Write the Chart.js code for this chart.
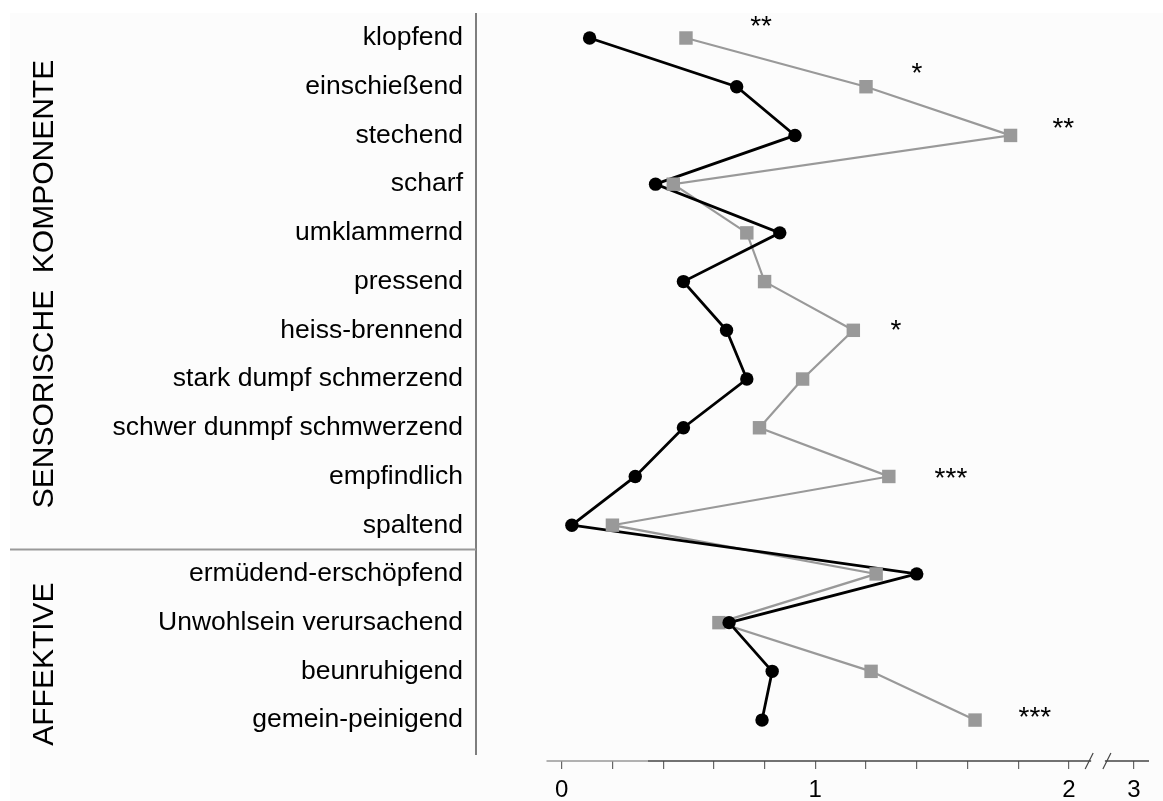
<!DOCTYPE html>
<html><head><meta charset="utf-8">
<script src="https://cdn.jsdelivr.net/npm/chart.js@4.4.1/dist/chart.umd.min.js"></script>
<style>html,body{margin:0;padding:0;background:#fff;}canvas{display:block;}</style>
</head><body>
<canvas id="c" width="1163" height="801"></canvas>
<script>
const categories = ["klopfend","einschießend","stechend","scharf","umklammernd","pressend","heiss-brennend","stark dumpf schmerzend","schwer dunmpf schmwerzend","empfindlich","spaltend","ermüdend-erschöpfend","Unwohlsein verursachend","beunruhigend","gemein-peinigend"];
const seriesBlack = [0.11,0.69,0.92,0.37,0.86,0.48,0.65,0.73,0.48,0.29,0.04,1.40,0.66,0.83,0.79];
const seriesGray  = [0.49,1.20,1.77,0.44,0.73,0.80,1.15,0.95,0.78,1.29,0.20,1.24,0.62,1.22,1.63];
const groupNames = ["SENSORISCHE  KOMPONENTE","AFFEKTIVE"];
const groupCenters = [5.05, 12.85];
const groupSplit = 10.5;
const starLabels = ["**","*","**","*","***","***"];
const starX = [0.786,1.401,1.978,1.318,1.535,1.866];
const starY = [-0.40,0.585,1.71,5.84,8.88,13.80];
const xTickValues = [0,0.2,0.4,0.6,0.8,1,1.2,1.4,1.6,1.8,2,2.257];
const xTickLabels = ["0","","","","","1","","","","","2","3"];
const axisStart = -0.06;
const axisLightEnd = 0.34;
const axisBreak = [2.08, 2.15];

const FONT = "'Liberation Sans', Arial, sans-serif";
const toPts = arr => arr.map((v,i)=>({x:v,y:i}));

const decor = {
  id:'decor',
  beforeDraw(chart){
    const c = chart.ctx;
    c.save();
    c.fillStyle='#ffffff'; c.fillRect(0,0,chart.width,chart.height);
    c.fillStyle='#fcfcfc'; c.fillRect(10,13,chart.width-10,chart.height-13);
    c.restore();
  },
  afterDraw(chart){
    const c = chart.ctx, xs = chart.scales.x, ys = chart.scales.y, ca = chart.chartArea;
    c.save();
    const y0 = xs.top;
    // x axis line (light start segment, then dark, with break)
    c.lineWidth=1.5;
    c.strokeStyle='#999';
    c.beginPath();
    c.moveTo(xs.getPixelForValue(axisStart), y0);
    c.lineTo(xs.getPixelForValue(axisLightEnd), y0);
    c.stroke();
    c.strokeStyle='#444';
    c.beginPath();
    c.moveTo(xs.getPixelForValue(axisLightEnd), y0);
    c.lineTo(xs.getPixelForValue(axisBreak[0])+2, y0);
    c.moveTo(xs.getPixelForValue(axisBreak[1])-2, y0);
    c.lineTo(xs.right, y0);
    c.stroke();
    c.lineWidth=1.2;
    axisBreak.forEach(b=>{
      const px = xs.getPixelForValue(b);
      c.beginPath(); c.moveTo(px-4, y0+8); c.lineTo(px+4, y0-8); c.stroke();
    });
    // vertical category axis line
    c.strokeStyle='#555'; c.lineWidth=1.5;
    c.beginPath(); c.moveTo(ca.left, ca.top); c.lineTo(ca.left, ca.bottom-6); c.stroke();
    // group separator
    const sy = ys.getPixelForValue(groupSplit);
    c.strokeStyle='#999'; c.lineWidth=2;
    c.beginPath(); c.moveTo(10, sy); c.lineTo(ca.left, sy); c.stroke();
    // group labels
    c.fillStyle='#000'; c.font = "30px "+FONT; c.textAlign='center'; c.textBaseline='middle';
    groupNames.forEach((g,i)=>{
      const py = ys.getPixelForValue(groupCenters[i]);
      c.save(); c.translate(45, py); c.rotate(-Math.PI/2); c.fillText(g,0,0); c.restore();
    });
    // significance stars
    c.font = "28px "+FONT; c.textAlign='center'; c.textBaseline='alphabetic';
    starLabels.forEach((s,i)=>{
      c.fillText(s, xs.getPixelForValue(starX[i]), ys.getPixelForValue(starY[i]) + 16);
    });
    c.restore();
  }
};

new Chart(document.getElementById('c'), {
  type:'scatter',
  data:{ datasets:[
    {data:toPts(seriesGray), showLine:true, borderColor:'#999999', borderWidth:2.2, pointRadius:0, order:4},
    {data:toPts(seriesBlack), showLine:true, borderColor:'#000000', borderWidth:2.8, pointRadius:0, order:3},
    {data:toPts(seriesGray), showLine:false, pointStyle:'rect', pointRadius:9.5, backgroundColor:'#999999', borderWidth:0, order:2},
    {data:toPts(seriesBlack), showLine:false, pointStyle:'circle', pointRadius:6.7, backgroundColor:'#000000', borderWidth:0, order:1}
  ]},
  options:{
    responsive:false, animation:false,
    layout:{padding:{top:13,right:14,bottom:0,left:0}},
    plugins:{legend:{display:false}, tooltip:{enabled:false}},
    scales:{
      x:{ type:'linear', min:-0.338, max:2.316,
        border:{display:false},
        grid:{display:true, drawOnChartArea:false, drawTicks:true, tickLength:8, color:'#666', lineWidth:1.2},
        afterBuildTicks:(s)=>{ s.ticks = xTickValues.map(v=>({value:v})); },
        afterFit:(s)=>{ s.height = 40; },
        ticks:{ autoSkip:false, maxRotation:0, padding:7, color:'#000', font:{family:FONT, size:24},
          callback:(v,i)=>xTickLabels[i] }
      },
      y:{ type:'linear', reverse:true, min:-0.513, max:14.84,
        border:{display:false},
        grid:{display:true, drawOnChartArea:false, drawTicks:true, tickLength:13, color:'rgba(0,0,0,0)'},
        afterBuildTicks:(s)=>{ s.ticks = categories.map((c,i)=>({value:i})); },
        afterFit:(s)=>{ s.width = 476; },
        ticks:{ autoSkip:false, padding:0, color:'#000', font:{family:FONT, size:26.5, lineHeight:0.98},
          callback:(v,i)=>categories[i] }
      }
    }
  },
  plugins:[decor]
});
</script>
</body></html>
